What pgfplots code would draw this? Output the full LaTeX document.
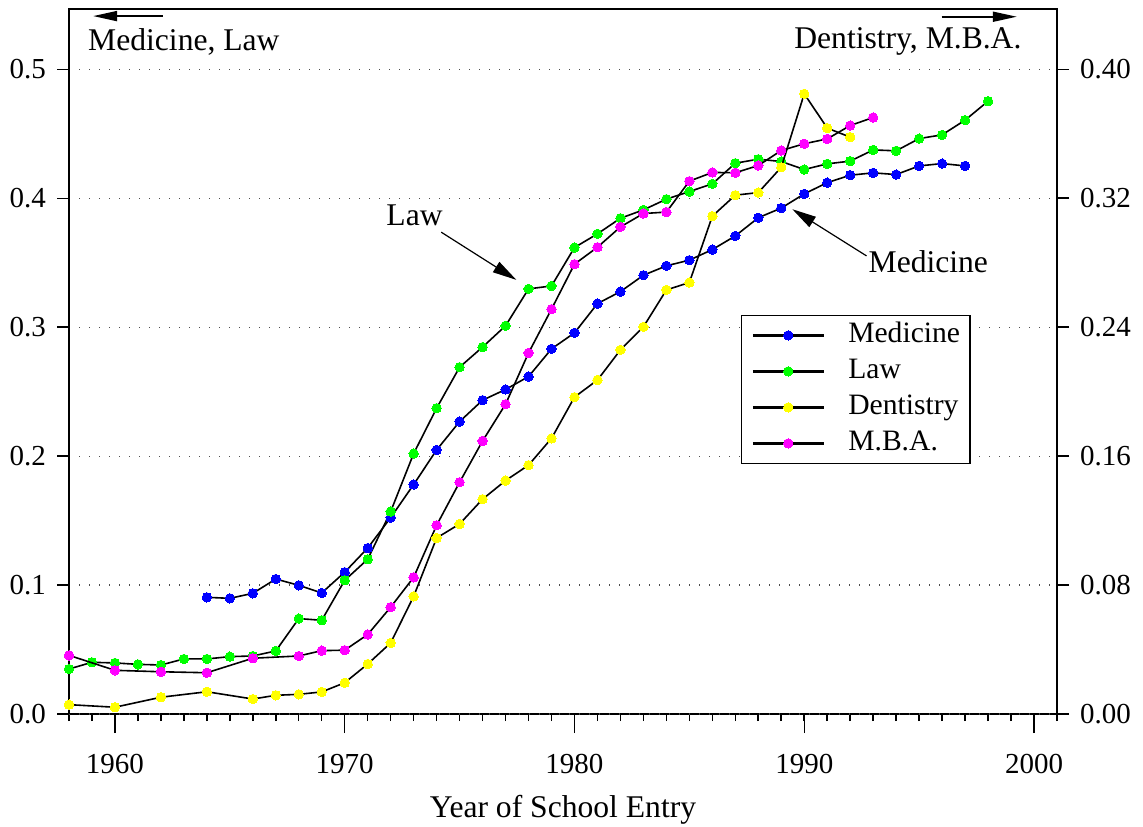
\documentclass[border=0pt]{standalone}
\usepackage{pgfplots}
\pgfplotsset{compat=1.18}
\usepackage{pgfplotstable}
\usepackage{fontspec}
\setmainfont{Liberation Serif}
\usetikzlibrary{arrows.meta}

\definecolor{cblue}{RGB}{0,0,255}
\definecolor{cgreen}{RGB}{0,255,0}
\definecolor{cyellow}{RGB}{255,255,0}
\definecolor{cmag}{RGB}{255,0,255}

% left axis
\pgfplotstableread{
year val
1964 0.0905
1965 0.0897
1966 0.0936
1967 0.1047
1968 0.0998
1969 0.0939
1970 0.1100
1971 0.1287
1972 0.1523
1973 0.1780
1974 0.2048
1975 0.2268
1976 0.2434
1977 0.2517
1978 0.2617
1979 0.2832
1980 0.2956
1981 0.3183
1982 0.3276
1983 0.3403
1984 0.3476
1985 0.3520
1986 0.3602
1987 0.3708
1988 0.3849
1989 0.3924
1990 0.4034
1991 0.4121
1992 0.4179
1993 0.4197
1994 0.4184
1995 0.4251
1996 0.4269
1997 0.4251
}\medicine

\pgfplotstableread{
year val
1958 0.0349
1959 0.0401
1960 0.0396
1961 0.0385
1962 0.0380
1963 0.0427
1964 0.0427
1965 0.0445
1966 0.0450
1967 0.0489
1968 0.0740
1969 0.0727
1970 0.1037
1971 0.1200
1972 0.1570
1973 0.2020
1974 0.2372
1975 0.2690
1976 0.2846
1977 0.3011
1978 0.3297
1979 0.3320
1980 0.3618
1981 0.3724
1982 0.3845
1983 0.3910
1984 0.3993
1985 0.4052
1986 0.4112
1987 0.4272
1988 0.4303
1989 0.4285
1990 0.4223
1991 0.4267
1992 0.4288
1993 0.4375
1994 0.4368
1995 0.4463
1996 0.4492
1997 0.4606
1998 0.4753
}\law

% right axis
\pgfplotstableread{
year val
1958 0.0058
1960 0.0042
1962 0.0104
1964 0.0138
1966 0.0093
1967 0.0116
1968 0.0122
1969 0.0137
1970 0.0194
1971 0.0310
1972 0.0441
1973 0.0730
1974 0.1092
1975 0.1179
1976 0.1333
1977 0.1448
1978 0.1544
1979 0.1710
1980 0.1966
1981 0.2072
1982 0.2259
1983 0.2402
1984 0.2631
1985 0.2677
1986 0.3089
1987 0.3219
1988 0.3235
1989 0.3392
1990 0.3848
1991 0.3635
1992 0.3579
}\dentistry

\pgfplotstableread{
year val
1958 0.0364
1960 0.0271
1962 0.0262
1964 0.0256
1966 0.0346
1968 0.0360
1969 0.0393
1970 0.0396
1971 0.0493
1972 0.0663
1973 0.0848
1974 0.1171
1975 0.1438
1976 0.1694
1977 0.1922
1978 0.2240
1979 0.2512
1980 0.2791
1981 0.2896
1982 0.3022
1983 0.3105
1984 0.3114
1985 0.3306
1986 0.3360
1987 0.3358
1988 0.3403
1989 0.3496
1990 0.3538
1991 0.3568
1992 0.3651
1993 0.3701
}\mba

\newcommand\tickfont{\fontsize{14.5bp}{17bp}\selectfont}
\newcommand\labfont{\fontsize{15.8bp}{19bp}\selectfont}
\newcommand\legfont{\fontsize{14.8bp}{17bp}\selectfont}

\pgfplotsset{
  ser/.style={black, line width=0.8bp, mark=*, mark size=2.35bp,
    mark options={draw=#1, fill=#1, line width=0bp}},
  common/.style={scale only axis, width=494bp, height=352.5bp,
    at={(0,0)}, anchor=south west, xmin=1958, xmax=2001,
    tick align=outside,
    axis line style={line width=0.75bp},
    every tick/.style={black, line width=0.75bp},
    /pgf/number format/assume math mode=true,
    clip=false},
}

\begin{document}
\begin{tikzpicture}
\useasboundingbox (-34.5bp,-56.5bp) rectangle (537bp,357bp);
% x axis and frame
\begin{axis}[common, ymin=0, ymax=0.5468,
  xtick={1960,1970,1980,1990,2000},
  minor xtick={1958,1959,...,2001},
  xtick pos=bottom, ytick=\empty,
  major tick length=9.5bp, minor tick length=3.5bp,
  xticklabel style={font=\tickfont, /pgf/number format/1000 sep={}, yshift=-7bp},
  xlabel={Year of School Entry}, xlabel style={font=\labfont, yshift=-4bp},
]
\end{axis}
% left axis: Medicine, Law
\begin{axis}[common, ymin=0, ymax=0.5468,
  axis x line=none, axis y line*=left,
  ytick={0,0.1,0.2,0.3,0.4,0.5},
  major tick length=6bp,
  yticklabel style={font=\tickfont, xshift=-2bp, /pgf/number format/.cd, fixed, fixed zerofill, precision=1},
  ymajorgrids,
  grid style={line width=0.6bp, black!70, dash pattern=on 0.6bp off 4.4bp},
]
\addplot[ser=cblue] table[x=year,y=val] {\medicine};
\addplot[ser=cgreen] table[x=year,y=val] {\law};
\node[font=\labfont, anchor=west, inner sep=0] at (axis cs:1958.82,0.5214) {Medicine, Law};
\draw[-{Triangle[length=12bp,width=5bp]}, line width=0.9bp] (axis cs:1962.08,0.5413) -- (axis cs:1959.05,0.5413);
\node[font=\labfont, anchor=east, inner sep=0] at (axis cs:1999.47,0.5214) {Dentistry, M.B.A.};
\draw[-{Triangle[length=12bp,width=5bp]}, line width=0.9bp] (axis cs:1995.98,0.5408) -- (axis cs:1999.25,0.5408);
\node[font=\labfont, inner sep=0] at (axis cs:1973.04,0.3871) {Law};
\draw[-{Triangle[length=12bp,width=6bp]}, line width=0.6bp] (axis cs:1974.20,0.3737) -- (axis cs:1977.47,0.3367);
\node[font=\labfont, inner sep=0] at (axis cs:1995.40,0.3509) {Medicine};
\draw[-{Triangle[length=12bp,width=6bp]}, line width=0.6bp] (axis cs:1992.71,0.3553) -- (axis cs:1989.48,0.3915);
\end{axis}
% right axis: Dentistry, MBA
\begin{axis}[common, ymin=0, ymax=0.4374,
  axis x line=none, axis y line*=right,
  ytick={0,0.08,0.16,0.24,0.32,0.40},
  major tick length=6bp,
  yticklabel style={font=\tickfont, xshift=2bp, /pgf/number format/.cd, fixed, fixed zerofill, precision=2},
  legend image code/.code={%
    \draw[#1, line width=1.35bp, mark=none] (0bp,0bp) -- (35.5bp,0bp);
    \draw[#1] plot coordinates {(17.75bp,0bp)};
    \path (47.35bp,0bp);
  },
  legend cell align=left,
  legend style={at={(0.680,0.566)}, anchor=north west, draw=black, line width=0.6bp,
    font=\legfont, inner xsep=5bp, inner ysep=3bp, row sep=4.2bp,
    nodes={inner sep=0bp, text height=10.5bp, text depth=3.3bp}},
]
\addlegendimage{ser=cblue}
\addlegendentry{Medicine}
\addlegendimage{ser=cgreen}
\addlegendentry{Law}
\addplot[ser=cyellow] table[x=year,y=val] {\dentistry};
\addlegendentry{Dentistry}
\addplot[ser=cmag] table[x=year,y=val] {\mba};
\addlegendentry{M.B.A.}
\end{axis}
\end{tikzpicture}
\end{document}
